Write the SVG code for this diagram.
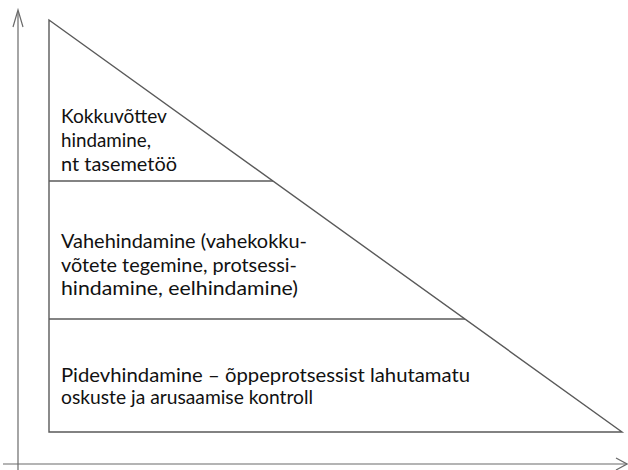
<svg xmlns="http://www.w3.org/2000/svg" width="628" height="470" viewBox="0 0 628 470">
<style>
.ln{stroke:#5a5a5a;stroke-width:1.4;fill:none}
.ax{stroke:#6a6a6a;stroke-width:1.2;fill:none}
.t{font-family:Lato,"Liberation Sans",sans-serif;font-size:19px;fill:#111}
</style>
<rect width="628" height="470" fill="#fff"/>
<g id="axes">
<path class="ax" d="M18,11 V470"/>
<path class="ax" d="M13,27 L18,10 L23,27"/>
<path class="ax" d="M3,464 H627"/>
<path class="ax" d="M616,458 L627,464 L616,470"/>
</g>
<g id="triangle">
<path class="ln" d="M49,20 L622,432 L49,432 Z"/>
</g>
<g id="connectors">
<path class="ln" d="M49,181 H273"/>
<path class="ln" d="M49,319 H465"/>
</g>
<g id="top">
<text class="t" x="61" y="123" textLength="106" lengthAdjust="spacingAndGlyphs">Kokkuvõttev</text>
<text class="t" x="61" y="147" textLength="90" lengthAdjust="spacingAndGlyphs">hindamine,</text>
<text class="t" x="61" y="171" textLength="116" lengthAdjust="spacingAndGlyphs">nt tasemetöö</text>
</g>
<g id="middle">
<text class="t" x="61" y="248" textLength="246" lengthAdjust="spacingAndGlyphs">Vahehindamine (vahekokku-</text>
<text class="t" x="61" y="272" textLength="236" lengthAdjust="spacingAndGlyphs">võtete tegemine, protsessi-</text>
<text class="t" x="61" y="295" textLength="237" lengthAdjust="spacingAndGlyphs">hindamine, eelhindamine)</text>
</g>
<g id="bottom">
<text class="t" x="61" y="382" textLength="409" lengthAdjust="spacingAndGlyphs">Pidevhindamine – õppeprotsessist lahutamatu</text>
<text class="t" x="61" y="404" textLength="252" lengthAdjust="spacingAndGlyphs">oskuste ja arusaamise kontroll</text>
</g>
</svg>
